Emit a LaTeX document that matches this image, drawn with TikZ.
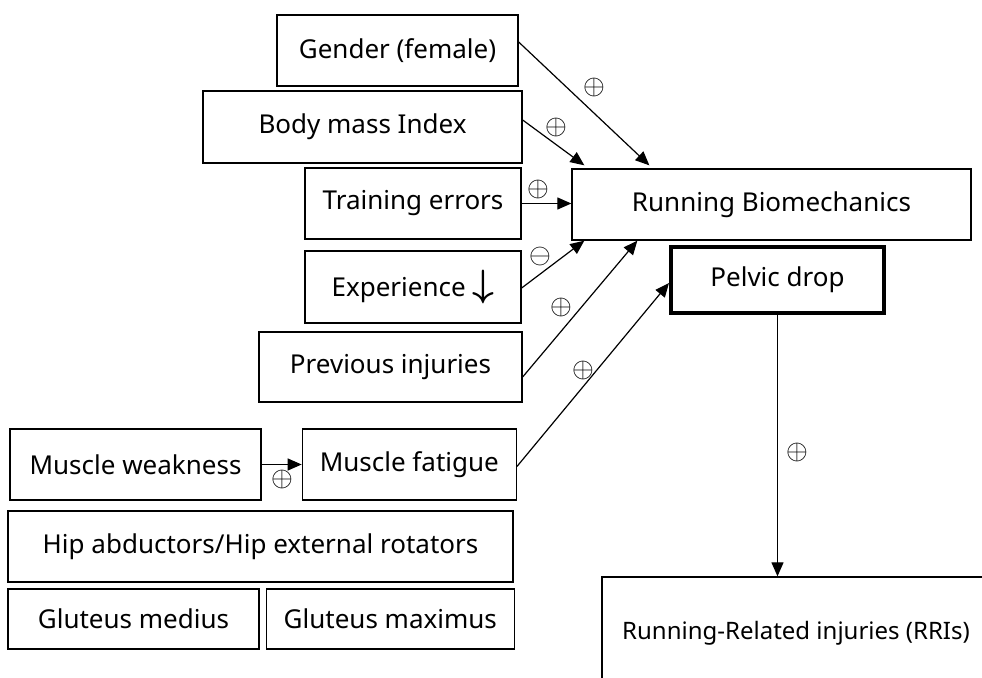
\RequirePackage{fix-cm}
\documentclass[tikz,border=0pt]{standalone}
\usepackage{fontspec}
\setmainfont{Noto Sans}
\usetikzlibrary{arrows.meta,positioning}

\begin{document}
\begin{tikzpicture}[x=1pt, y=1pt,
    every node/.style={font=\fontsize{26}{30}\selectfont},
    box/.style={draw, line width=1.3pt, inner sep=0pt, align=center},
    link/.style={-{Triangle[length=14pt,width=12pt]}, line width=1.2pt},
    sign/.style={inner sep=0pt, font=\fontsize{28}{28}\selectfont}]
  \useasboundingbox (0,0) rectangle (982,677);
  % risk factors
  \node[box, minimum width=241pt, minimum height=71pt] (gender) at (397.5,626.5) {Gender (female)};
  \node[box, minimum width=319pt, minimum height=72pt] (bmi) at (362.5,550) {Body mass Index};
  \node[box, minimum width=216pt, minimum height=71pt] (train) at (413,473.5) {Training errors};
  \node[box, minimum width=216pt, minimum height=72pt] (exper) at (413,390) {Experience {\fontsize{38}{30}\selectfont\boldmath$\downarrow$}};
  \node[box, minimum width=263pt, minimum height=70pt] (prev) at (390.5,310) {Previous injuries};
  \node[box, minimum width=251pt, minimum height=71pt] (weak) at (135.5,212.5) {Muscle weakness};
  \node[box, minimum width=214pt, minimum height=71pt, right=40pt of weak] (fatig) {Muscle fatigue};
  \node[box, minimum width=505pt, minimum height=71pt] (hip) at (260.5,130.5) {Hip abductors/Hip external rotators};
  \node[box, minimum width=251pt, minimum height=60pt] (gmed) at (133.5,58) {Gluteus medius};
  \node[box, minimum width=248pt, minimum height=60pt, right=6pt of gmed] (gmax) {Gluteus maximus};
  % outcome side
  \node[box, minimum width=399pt, minimum height=71pt] (biomech) at (771.5,472.5) {Running Biomechanics};
  \node[box, line width=4pt, minimum width=213pt, minimum height=66pt] (pelvic) at (777.5,397) {Pelvic drop};
  \node[box, minimum width=388pt, minimum height=112pt, font=\fontsize{24}{30}\selectfont] (rri) at (796,44) {Running-Related injuries (RRIs)};

  \draw[link] ([yshift=8.5pt]gender.east) -- ([xshift=78pt,yshift=3pt]biomech.north west);
  \draw[link] ([yshift=7pt]bmi.east) -- ([xshift=13pt,yshift=3pt]biomech.north west);
  \draw[link] (train.east) -- (train.east -| biomech.west);
  \draw[link] ([yshift=-1pt]exper.east) -- ([xshift=13pt]biomech.south west);
  \draw[link] ([yshift=-10pt]prev.east) -- ([xshift=66pt]biomech.south west);
  \draw[link] ([yshift=-2pt]fatig.east) -- ([yshift=-3pt]pelvic.west);
  \draw[link] (weak.east) -- (fatig.west);
  \draw[link] (pelvic.south) -- (pelvic.south |- rri.north);

  \node[sign] (s1) at (594,589) {$\oplus$};
  \node[sign] (s2) at (556,549) {$\oplus$};
  \node[sign] (s3) at (538,487) {$\oplus$};
  \node[sign] (s4) at (540,420) {$\ominus$};
  \node[sign] (s5) at (561,369) {$\oplus$};
  \node[sign] (s6) at (583,306) {$\oplus$};
  \node[sign] (s7) at (282,197) {$\oplus$};
  \node[sign] (s8) at (797,224) {$\oplus$};
\end{tikzpicture}
\end{document}
